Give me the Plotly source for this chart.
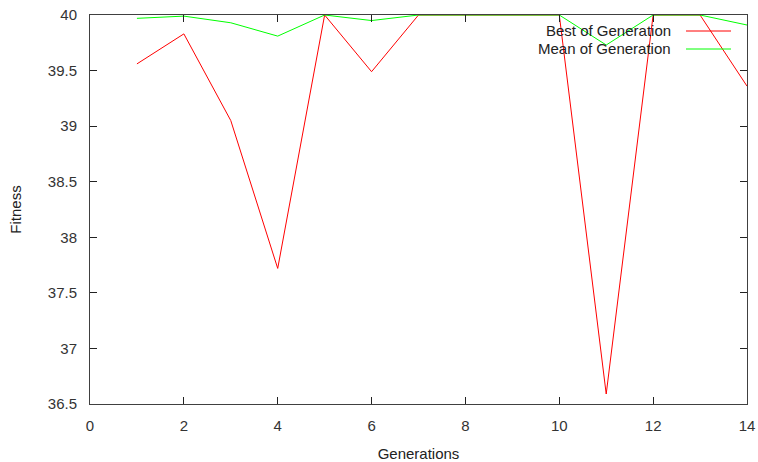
import plotly.graph_objects as go

generations = [1, 2, 3, 4, 5, 6, 7, 8, 9, 10, 11, 12, 13, 14]
best = [39.56, 39.83, 39.05, 37.72, 40.0, 39.49, 40.0, 40.0, 40.0, 40.0, 36.59, 40.0, 40.0, 39.36]
mean = [39.97, 39.99, 39.93, 39.81, 40.0, 39.95, 40.0, 40.0, 40.0, 40.0, 39.73, 40.0, 40.0, 39.91]
series_names = ["Best of Generation", "Mean of Generation"]
series_colors = ["#ff0000", "#00ff00"]

FONT = "Liberation Sans, Arial, sans-serif"
FS = 15

fig = go.Figure()
for name, vals, col in zip(series_names, [best, mean], series_colors):
    fig.add_trace(go.Scatter(x=generations, y=vals, mode="lines", name=name,
                             line=dict(color=col, width=1), showlegend=False))

W, H = 758, 462
L, R, T, B = 90, 11, 15, 58
pw, ph = W - L - R, H - T - B

def px_x(px):
    return (px - L) / pw

def px_y(py):
    return 1 - (py - T) / ph

annotations = []
shapes = []
for i, (name, col) in enumerate(zip(series_names, series_colors)):
    ypix = 31 + 18 * i
    annotations.append(dict(x=px_x(673), y=px_y(ypix), xref="paper", yref="paper",
                            text=name, showarrow=False, xanchor="right", yanchor="middle",
                            font=dict(family=FONT, size=FS, color="#222222")))
    shapes.append(dict(type="line", xref="paper", yref="paper",
                       x0=px_x(686), x1=px_x(731), y0=px_y(ypix), y1=px_y(ypix),
                       line=dict(color=col, width=1)))

axis_common = dict(showline=True, linecolor="#404040", linewidth=1, mirror="ticks",
                   ticks="inside", ticklen=7, tickcolor="#222222", showgrid=False,
                   zeroline=False, automargin=False,
                   tickfont=dict(family=FONT, size=FS, color="#333333"))

fig.update_layout(
    width=W, height=H,
    margin=dict(l=L, r=R, t=T, b=B, autoexpand=False),
    paper_bgcolor="white", plot_bgcolor="white",
    font=dict(family=FONT, size=FS, color="#222222"),
    xaxis=dict(range=[0, 14], dtick=2, tick0=0, ticklabelstandoff=8,
               title=dict(text="Generations", standoff=16, font=dict(family=FONT, size=FS)),
               **axis_common),
    yaxis=dict(range=[36.5, 40], dtick=0.5, tick0=36.5, ticklabelstandoff=9,
               title=dict(text="Fitness", standoff=22, font=dict(family=FONT, size=FS)),
               **axis_common),
    annotations=annotations,
    shapes=shapes,
)

fig.write_html("out.html", config={"displayModeBar": False},
               post_script="document.body.style.margin='0';document.body.style.overflow='hidden';")
